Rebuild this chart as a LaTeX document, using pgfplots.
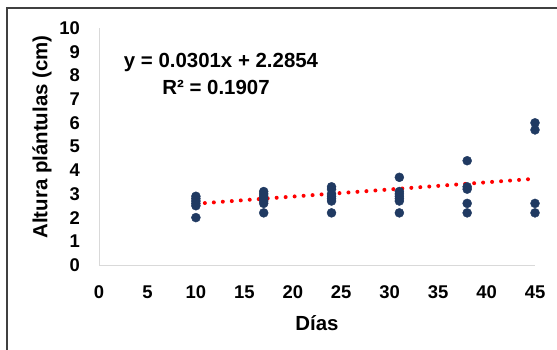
\documentclass[border=0pt]{standalone}
\usepackage{fontspec}
\setmainfont{Liberation Sans}
\usepackage{pgfplots}
\pgfplotsset{compat=1.18}
\definecolor{ptblue}{HTML}{203A62}
\definecolor{axgray}{HTML}{D9D9D9}
\begin{document}
\begin{tikzpicture}
\useasboundingbox (0,0) rectangle (557bp,-350bp);
\fill[white] (0,0) rectangle (557bp,-350bp);
\draw[color=black!75, line width=1.5bp] (7bp,-352bp) -- (7bp,-8bp) -- (559bp,-8bp);
\begin{axis}[
  at={(99bp,-265bp)}, anchor=south west,
  width=436bp, height=237bp, scale only axis,
  xmin=0, xmax=45, ymin=0, ymax=10,
  axis x line*=bottom, axis y line*=left,
  axis line style={axgray, line width=1bp, -},
  xtick={0,5,...,45}, ytick={0,1,...,10},
  major tick length=0pt,
  /pgf/number format/assume math mode=true,
  tick label style={font=\fontsize{18.5}{20}\selectfont\bfseries, inner sep=0pt},
  xticklabel style={anchor=center, yshift=-27bp},
  yticklabel style={anchor=east, xshift=-19bp},
  xlabel={Días}, ylabel={Altura plántulas (cm)},
  label style={font=\fontsize{20.5}{24}\selectfont\bfseries},
  xlabel style={at={(axis description cs:0.5,0)}, anchor=center, yshift=-58bp},
  ylabel style={at={(axis description cs:-0.1307,0.54)}, anchor=center},
  clip=false,
]
\addplot[only marks, mark=*, mark size=4.5bp, mark options={fill=ptblue, draw=ptblue}] coordinates {
  (10,2.9) (10,2.8) (10,2.7) (10,2.6) (10,2.5) (10,2.0)
  (17,3.1) (17,3.0) (17,2.9) (17,2.8) (17,2.7) (17,2.6) (17,2.2)
  (24,3.3) (24,3.2) (24,3.0) (24,2.9) (24,2.8) (24,2.7) (24,2.2)
  (31,3.7) (31,3.1) (31,3.0) (31,2.9) (31,2.8) (31,2.7) (31,2.2)
  (38,4.4) (38,3.3) (38,3.2) (38,2.6) (38,2.2)
  (45,6.0) (45,5.7) (45,2.6) (45,2.2)
};
\addplot[red, line width=4bp, line cap=round, dash pattern=on 0bp off 9bp] coordinates {(10,2.5864) (45,3.6399)};
\end{axis}
\node[font=\fontsize{20.5}{24}\selectfont\bfseries] at (221bp,-62bp) {y = 0.0301x + 2.2854};
\node[font=\fontsize{20.5}{24}\selectfont\bfseries] at (216bp,-87bp) {R² = 0.1907};
\end{tikzpicture}
\end{document}
